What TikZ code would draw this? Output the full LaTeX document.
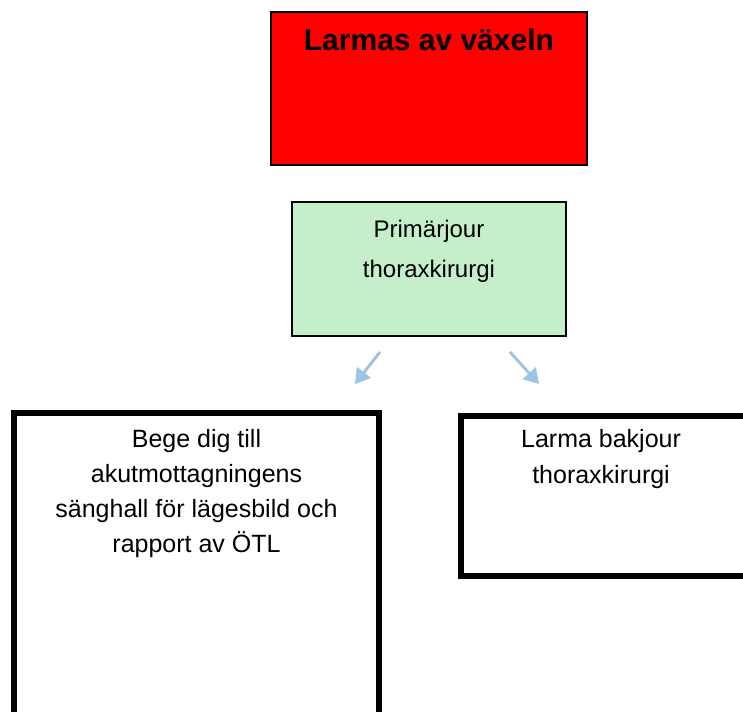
\documentclass[tikz,border=0pt]{standalone}
\usepackage{fontspec}
\setmainfont{Liberation Sans}
\definecolor{alarmred}{HTML}{FF0000}
\definecolor{jourgreen}{HTML}{C5EFCB}
\definecolor{flowblue}{HTML}{9DC3E6}
\usetikzlibrary{arrows.meta}
\usetikzlibrary{positioning}
\tikzstyle{thinbox} = [draw=black, line width=1.1pt, rectangle, outer sep=0pt, inner sep=0pt]
\tikzstyle{thickbox} = [draw=black, line width=4pt, rectangle, outer sep=0pt, inner sep=0pt]
\tikzstyle{boxtext} = [align=center, inner sep=0pt, text=black]
\tikzstyle{flow} = [flowblue, line width=2.2pt, -{Triangle[length=11pt,width=13pt]}]

\begin{document}
\begin{tikzpicture}[x=0.75pt, y=-0.75pt]
\useasboundingbox (0,0) rectangle (743,711);

% boxes
\node[thinbox, fill=alarmred, minimum width=237pt, minimum height=114.75pt] (vaxel) at (429,88.5) {};
\node[thinbox, fill=jourgreen, minimum width=205.5pt, minimum height=100.5pt] (primar) at (429,269) {};
\node[thickbox, minimum width=273.75pt, minimum height=237.75pt] (sanghall) at (196.5,571.5) {};
\node[thickbox, minimum width=215.25pt, minimum height=120pt] (bakjour) at (604.5,496) {};

% texts
\node[boxtext, below=12.4pt of vaxel.north, font=\bfseries\fontsize{22.5}{27}\selectfont] (vaxeltext) {Larmas av växeln};
\node[boxtext, below=13.1pt of primar.north, font=\fontsize{18}{30}\selectfont] (primartext) {Primärjour\\thoraxkirurgi};
\node[boxtext, below=12.4pt of sanghall.north, font=\fontsize{18.75}{26.25}\selectfont] (sanghalltext) {Bege dig till\\akutmottagningens\\sänghall för lägesbild och\\rapport av ÖTL};
\node[boxtext, below=10.1pt of bakjour.north, xshift=-2.6pt, font=\fontsize{18.75}{27}\selectfont] (bakjourtext) {Larma bakjour\\thoraxkirurgi};

% arrows
\coordinate (lstart) at (380,352);
\coordinate (lend) at (355,384);
\coordinate (rstart) at (510,352);
\coordinate (rend) at (539,384);
\draw[flow] (lstart) -- (lend);
\draw[flow] (rstart) -- (rend);

\end{tikzpicture}
\end{document}
